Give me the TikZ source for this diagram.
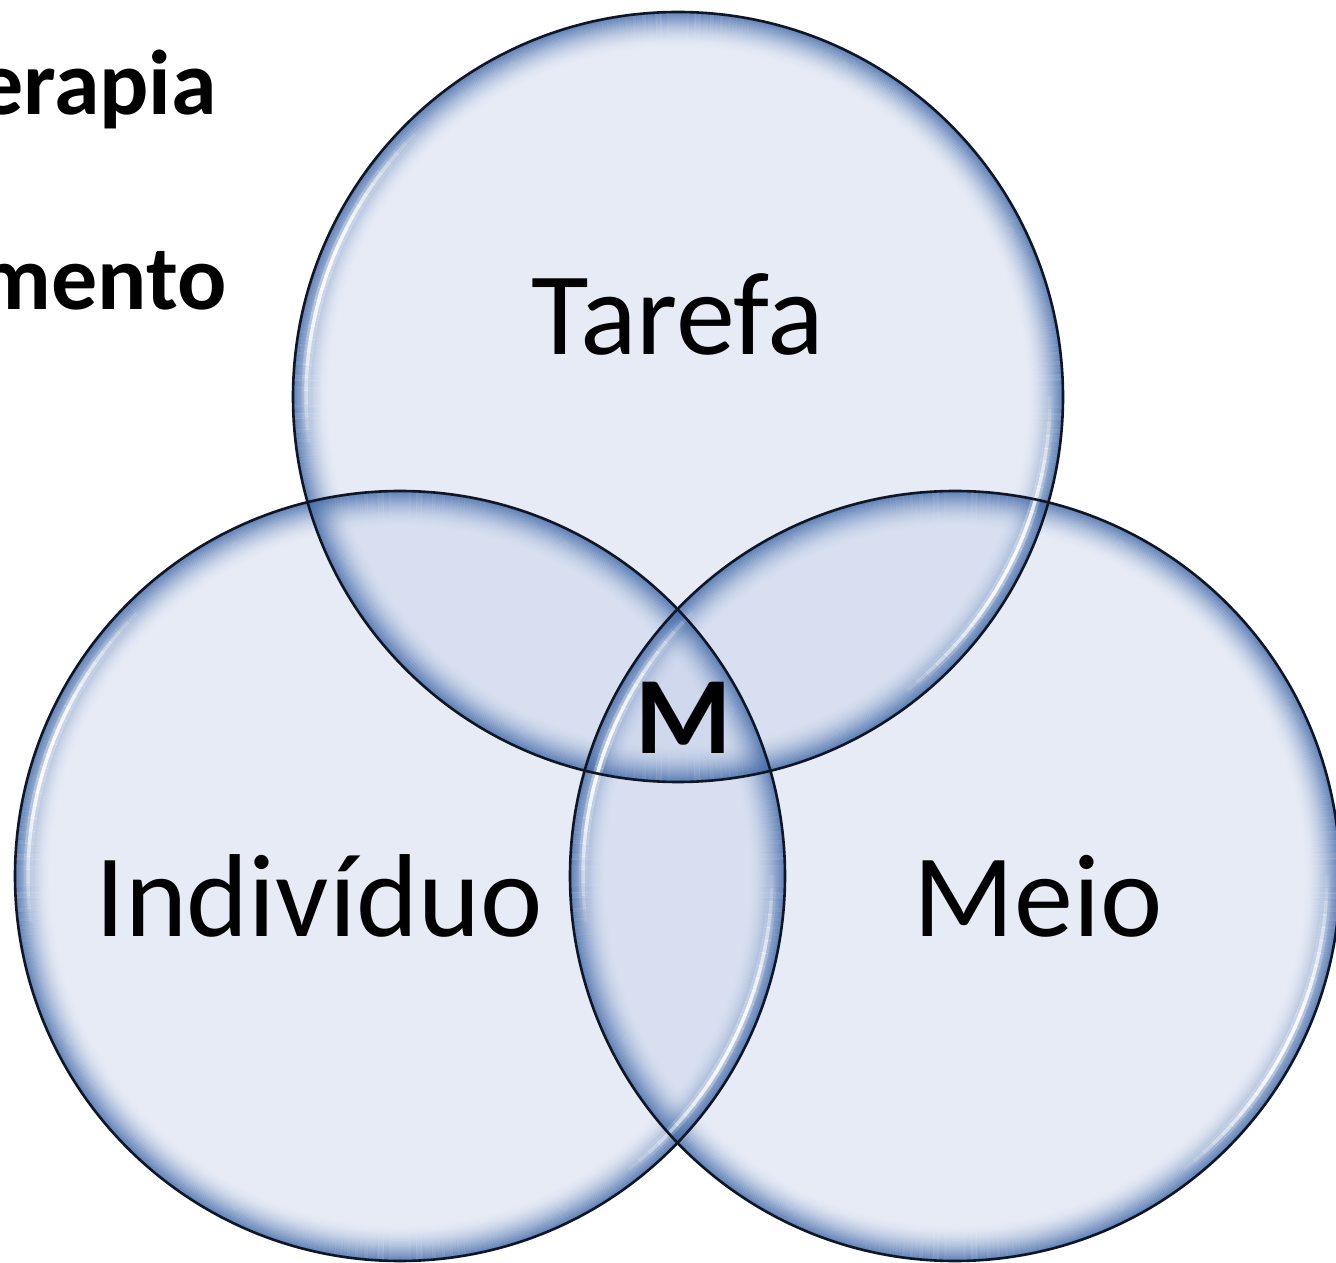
\documentclass[tikz,border=0pt]{standalone}
\usepackage{fontspec}
\setmainfont{Carlito}
\definecolor{cfill}{RGB}{196,208,234}
\definecolor{rimblue}{RGB}{65,105,168}
\definecolor{edgecol}{RGB}{15,22,38}
\tikzset{
  bigtxt/.style={font=\fontsize{118}{118}\selectfont, anchor=base, inner sep=0pt, text=black},
  sidetxt/.style={font=\fontsize{92}{92}\selectfont\bfseries, anchor=base east, inner sep=0pt, text=black},
}
\begin{document}
\begin{tikzpicture}[x=1pt,y=1pt]
\useasboundingbox (0,0) rectangle (1336,1262);
\clip (0,0) rectangle (1336,1262);
\fill[white] (0,0) rectangle (1336,1262);
\coordinate (T) at (678,865);
\coordinate (L) at (400,386);
\coordinate (R) at (955,386);
\def\rad{385}
% fills
\foreach \c in {T,L,R} \fill[cfill, fill opacity=0.42] (\c) circle (\rad);
% rim shading
\foreach \c in {T,L,R} {
  \foreach \i in {0,...,35} {
    \pgfmathsetmacro\op{0.75*(1-\i/36)^2}
    \draw[rimblue, draw opacity=\op, line width=1.2] (\c) circle (\rad-0.5-\i);
  }
}
% highlights
\foreach \c in {T,L,R} {
  \foreach \a in {133,135,...,185} {
    \pgfmathsetmacro\op{sin((\a-133)/54*180)}
    \draw[white, draw opacity=0.3*\op, line width=9] (\c) ++(\a:\rad-13) arc[start angle=\a, end angle=\a+2.1, radius=\rad-13];
    \draw[white, draw opacity=0.9*\op, line width=3.5] (\c) ++(\a:\rad-13) arc[start angle=\a, end angle=\a+2.1, radius=\rad-13];
  }
  \foreach \a in {-54,-52,...,-2} {
    \pgfmathsetmacro\op{sin((\a+54)/54*180)}
    \draw[white, draw opacity=0.3*\op, line width=9] (\c) ++(\a:\rad-13) arc[start angle=\a, end angle=\a+2.1, radius=\rad-13];
    \draw[white, draw opacity=0.9*\op, line width=3.5] (\c) ++(\a:\rad-13) arc[start angle=\a, end angle=\a+2.1, radius=\rad-13];
  }
}
% outlines
\foreach \c in {T,L,R} \draw[edgecol, line width=2.6] (\c) circle (\rad);
% texts
\node[bigtxt] (tarefa) at (678,907) {Tarefa};
\node[bigtxt] (indiv) at (319,325) {Indivíduo};
\node[bigtxt] (meio) at (1038,325) {Meio};
\node[font=\fontsize{110}{110}\selectfont\bfseries, anchor=base, inner sep=0pt] (m) at (684,508) {M};
\node[sidetxt] (erapia) at (217,1147) {erapia};
\node[sidetxt] (mento) at (227,952) {mento};
\end{tikzpicture}
\end{document}
